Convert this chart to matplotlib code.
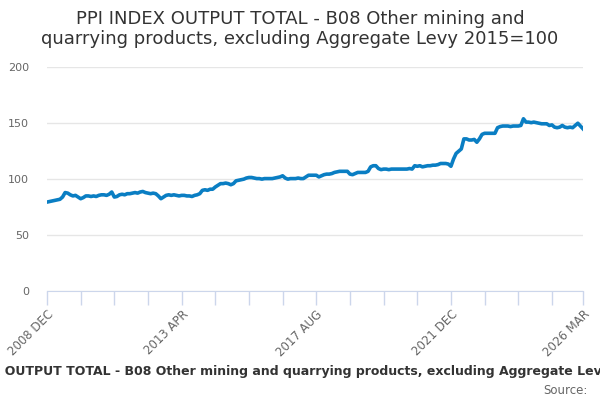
import matplotlib
matplotlib.use("Agg")
import matplotlib.pyplot as plt
import numpy as np

title = "PPI INDEX OUTPUT TOTAL - B08 Other mining and\nquarrying products, excluding Aggregate Levy 2015=100"
axis_title = "PPI INDEX OUTPUT TOTAL - B08 Other mining and quarrying products, excluding Aggregate Levy 2015=100"
source = "Source:"

months = ["JAN", "FEB", "MAR", "APR", "MAY", "JUN", "JUL", "AUG", "SEP", "OCT", "NOV", "DEC"]
categories = ["2008 DEC"] + [f"{y} {m}" for y in range(2009, 2026) for m in months] + ["2026 JAN", "2026 FEB", "2026 MAR"]

v2008 = [79.5]
v2009 = [80, 80.5, 81, 81.5, 82, 84, 88, 87.5, 86, 85, 85.5, 84]
v2010 = [82.5, 83.5, 85, 85, 84.5, 85, 84.5, 85.5, 86, 86, 85.5, 86.5]
v2011 = [88.5, 84, 84.5, 86, 86.5, 86, 87, 87, 87.5, 88, 87.5, 88.5]
v2012 = [89, 88, 87.5, 87, 87.5, 87, 85, 82.5, 84, 85.5, 86, 85.5]
v2013 = [86, 85.5, 85, 85.5, 85.5, 85, 85, 84.5, 85.5, 86, 87, 90]
v2014 = [90.5, 90, 91, 91, 93, 94.5, 96, 96, 96.5, 96, 95, 96]
v2015 = [98.5, 99, 99.5, 100, 101, 101.5, 101.5, 101, 100.5, 100.5, 100, 100.5]
v2016 = [100.5, 100.5, 100.5, 101, 101.5, 102, 103, 101, 100, 100.5, 100.5, 100.5]
v2017 = [101, 100.5, 100.5, 102, 103.5, 103.5, 103.5, 103.5, 102, 103, 104, 104.5]
v2018 = [104.5, 105, 106, 106.5, 107, 107, 107, 107, 104.5, 104, 105, 106]
v2019 = [106, 106, 106, 107, 111, 112, 112, 109.5, 108.5, 109, 109, 108.5]
v2020 = [109, 109, 109, 109, 109, 109, 109, 109.5, 109, 112, 111.5, 112]
v2021 = [111, 111.5, 112, 112, 112.5, 112.5, 113, 114, 114, 114, 113.5, 111.5]
v2022 = [118, 123, 125, 127, 136, 136, 135, 135, 135.5, 133, 136, 140]
v2023 = [141, 141, 141, 141, 141, 146, 147, 147.5, 147.5, 147.5, 147, 147.5]
v2024 = [147.5, 147.5, 148, 154, 151, 151, 150.5, 151, 150.5, 150, 149.5, 149.5]
v2025 = [149.5, 148, 148.5, 146.5, 146, 146.5, 148, 146.5, 146, 146.5, 146, 148]
v2026 = [150, 147.5, 145]

values = (v2008 + v2009 + v2010 + v2011 + v2012 + v2013 + v2014 + v2015 + v2016
          + v2017 + v2018 + v2019 + v2020 + v2021 + v2022 + v2023 + v2024 + v2025 + v2026)

yticks = [0, 50, 100, 150, 200]
labelled = ["2008 DEC", "2013 APR", "2017 AUG", "2021 DEC", "2026 MAR"]

fig = plt.figure(figsize=(6, 4), dpi=100)
ax = fig.add_axes([47 / 600, 1 - 291 / 400, 536 / 600, (291 - 67.3) / 400])

x = np.arange(len(values))
ax.plot(x, values, color="#0a7ec3", lw=2.6, solid_joinstyle="round", zorder=3)

ax.set_xlim(0, len(values) - 1)
ax.set_ylim(0, 200)
ax.set_yticks(yticks)
ax.set_yticklabels([str(t) for t in yticks], color="#666666", fontsize=8)
ax.grid(axis="y", color="#e6e6e6", lw=1)
ax.tick_params(axis="y", length=0, pad=13)

n = len(values)
tick_pos = list(range(0, n - 1, 13))
if tick_pos[-1] != n - 1:
    tick_pos.append(n - 1)
ax.set_xticks(tick_pos)
ax.set_xticklabels([categories[p] if categories[p] in labelled else "" for p in tick_pos],
                   rotation=45, ha="right", rotation_mode="anchor", fontsize=8.5, color="#666666")
ax.tick_params(axis="x", length=10, color="#ccd6eb", width=1, pad=2)

for s in ["top", "right", "left"]:
    ax.spines[s].set_visible(False)
ax.spines["bottom"].set_color("#ccd6eb")
ax.spines["bottom"].set_zorder(4)

fig.text(0.5, 1 - 29 / 400, title, ha="center", va="center", fontsize=13, color="#333333",
         linespacing=1.2)
fig.text(308 / 600, 1 - 372 / 400, axis_title, ha="center", va="center", fontsize=9,
         fontweight="bold", color="#333333")
fig.text(588 / 600, 1 - 390 / 400, source, ha="right", va="center", fontsize=8.5, color="#666666")

fig.savefig("out.png", dpi=100)
